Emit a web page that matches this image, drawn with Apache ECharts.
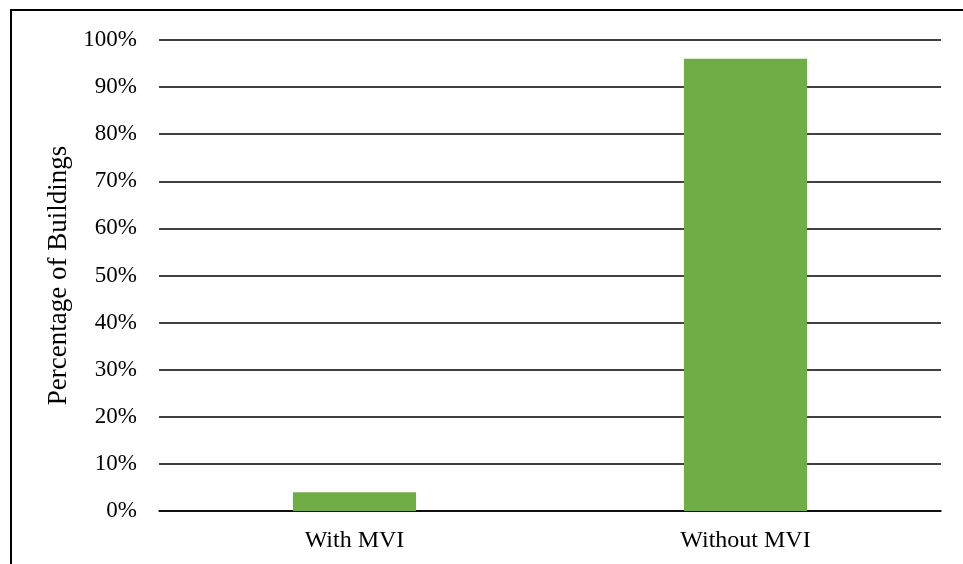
<!DOCTYPE html>
<html><head><meta charset="utf-8">
<script src="https://cdn.jsdelivr.net/npm/echarts@6/dist/echarts.min.js"></script>
<style>html,body{margin:0;padding:0;background:#fff}#c{width:963px;height:564px}</style>
</head><body><div id="c"></div>
<script>
const categories = ['With MVI', 'Without MVI'];
const values = [4.0, 96.0];
const yTicks = [0, 10, 20, 30, 40, 50, 60, 70, 80, 90, 100];
const font = '"Liberation Serif", "Times New Roman", serif';
const chart = echarts.init(document.getElementById('c'), null, {renderer: 'canvas'});
chart.setOption({
  animation: false,
  backgroundColor: '#fff',
  graphic: [{type: 'rect', shape: {x: 11, y: 10, width: 1000, height: 600}, style: {fill: 'none', stroke: '#000', lineWidth: 2}, silent: true}],
  grid: {left: 159, right: 22, top: 40, bottom: 53},
  xAxis: {
    type: 'category', data: categories,
    axisLine: {show: true, lineStyle: {color: '#000', width: 1.5}},
    axisTick: {show: false},
    axisLabel: {color: '#000', fontFamily: font, fontSize: 24, margin: 18}
  },
  yAxis: {
    type: 'value', min: yTicks[0], max: yTicks[yTicks.length - 1], interval: 10,
    name: 'Percentage of Buildings', nameLocation: 'middle', nameGap: 82,
    nameTextStyle: {color: '#000', fontFamily: font, fontSize: 27},
    axisLine: {show: false}, axisTick: {show: false},
    axisLabel: {color: '#000', fontFamily: font, fontSize: 23, margin: 22, formatter: v => v + '%'},
    splitLine: {show: true, lineStyle: {color: '#000', width: 1.5}}
  },
  series: [{type: 'bar', data: values, barWidth: '31.5%', itemStyle: {color: '#70AD47'}}]
});
</script></body></html>
